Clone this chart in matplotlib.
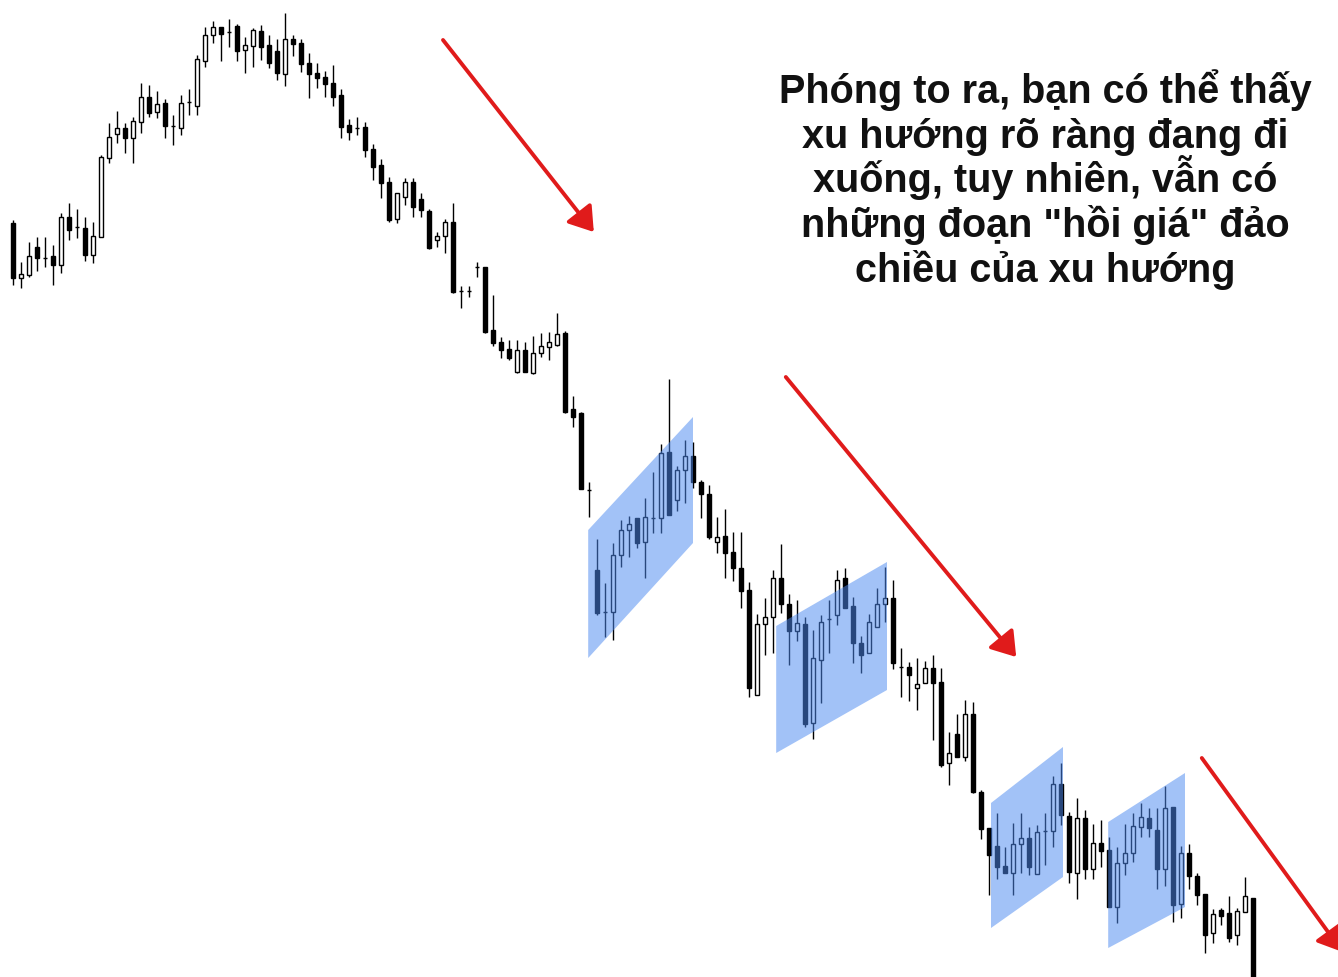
import matplotlib
matplotlib.use("Agg")
import matplotlib.pyplot as plt
from matplotlib.patches import Rectangle, Polygon

# ---------------- data (price units) ----------------
opens = [777, 722, 725, 753, 742, 744, 735, 783, 773, 772, 745, 763, 842, 866, 872, 862, 878, 903, 888, 897,
         874, 872, 898, 894, 939, 965, 973, 968, 974, 950, 954, 969, 955, 949, 926, 961, 957, 937, 927, 923,
         917, 905, 875, 872, 873, 851, 835, 818, 781, 803, 818, 801, 789, 760, 764, 778, 709, 709, 733, 733,
         670, 658, 651, 628, 650, 627, 647, 653, 655, 667, 591, 587, 510, 430, 388, 388, 445, 470, 482, 458,
         482, 482, 548, 500, 530, 544, 518, 506, 458, 464, 448, 432, 410, 305, 376, 383, 422, 396, 369, 376,
         277, 340, 381, 385, 422, 394, 357, 347, 373, 396, 402, 333, 333, 312, 317, 332, 318, 237, 266, 243,
         286, 208, 172, 154, 134, 127, 156, 162, 126, 169, 169, 216, 184, 127, 182, 131, 157, 150, 93, 137,
         147, 173, 182, 170, 131, 193, 96, 147, 124, 106, 67, 90, 87, 65, 88, 102]
highs = [780, 738, 758, 763, 763, 755, 787, 797, 791, 783, 778, 845, 877, 889, 877, 883, 917, 915, 909, 901,
         885, 905, 911, 945, 973, 979, 973, 981, 976, 963, 972, 975, 965, 961, 987, 965, 961, 947, 937, 929,
         935, 911, 881, 883, 878, 856, 841, 823, 807, 822, 822, 807, 791, 768, 781, 797, 714, 714, 738, 733,
         705, 663, 660, 660, 658, 664, 667, 668, 687, 669, 604, 588, 518, 461, 417, 457, 480, 484, 482, 502,
         528, 556, 621, 534, 560, 558, 520, 515, 483, 491, 468, 468, 418, 386, 402, 430, 456, 406, 400, 383,
         370, 385, 400, 430, 432, 403, 364, 386, 412, 433, 420, 352, 338, 342, 339, 345, 332, 268, 286, 300,
         298, 210, 172, 187, 153, 177, 187, 173, 175, 187, 224, 237, 188, 202, 190, 176, 180, 163, 153, 176,
         187, 197, 192, 192, 214, 193, 154, 156, 127, 106, 91, 92, 104, 92, 123, 102]
lows = [715, 712, 723, 729, 733, 715, 727, 760, 762, 739, 737, 763, 837, 857, 847, 837, 867, 883, 882, 862,
        855, 865, 885, 885, 933, 957, 939, 953, 939, 927, 933, 940, 932, 920, 914, 944, 928, 902, 912, 903,
        894, 862, 860, 865, 843, 820, 802, 778, 777, 795, 783, 783, 751, 753, 747, 707, 692, 703, 723, 667,
        654, 642, 640, 627, 628, 626, 643, 640, 654, 587, 573, 511, 483, 385, 363, 360, 433, 443, 452, 422,
        467, 467, 485, 489, 497, 512, 482, 461, 447, 422, 419, 392, 303, 305, 345, 347, 387, 335, 359, 273,
        261, 297, 347, 375, 392, 337, 327, 347, 373, 378, 331, 303, 299, 290, 317, 260, 233, 215, 243, 239,
        207, 161, 105, 121, 127, 105, 127, 125, 126, 135, 153, 175, 117, 101, 121, 121, 133, 93, 77, 125,
        138, 163, 163, 111, 114, 78, 82, 111, 95, 47, 57, 75, 58, 55, 88, 10]
closes = [722, 726, 744, 742, 742, 735, 783, 770, 773, 745, 764, 843, 863, 872, 862, 879, 903, 887, 896, 874,
          874, 897, 898, 941, 965, 973, 966, 968, 949, 955, 970, 953, 937, 927, 961, 956, 936, 926, 922, 916,
          903, 873, 868, 872, 850, 833, 817, 780, 807, 818, 793, 790, 752, 764, 778, 708, 709, 709, 733, 668,
          657, 650, 642, 650, 628, 647, 654, 658, 666, 588, 583, 511, 510, 387, 388, 445, 470, 476, 457, 483,
          482, 547, 485, 530, 544, 518, 506, 463, 463, 447, 432, 409, 312, 376, 383, 422, 396, 369, 377, 276,
          342, 378, 381, 420, 392, 357, 345, 378, 396, 402, 337, 333, 325, 316, 332, 317, 235, 247, 243, 286,
          208, 171, 145, 133, 127, 156, 162, 133, 168, 169, 216, 185, 128, 182, 131, 157, 149, 93, 137, 147,
          174, 183, 172, 131, 192, 95, 147, 124, 105, 65, 86, 84, 62, 89, 104, 10]

# pull-back zones: start/end candle index, top & bottom price at start/end
band_x0 = [71.9, 95.4, 122.25, 136.9]
band_x1 = [85.0, 109.25, 131.25, 146.5]
band_top0 = [470, 374, 197, 178]
band_top1 = [583, 438, 253, 227]
band_bot0 = [342, 247, 72, 52]
band_bot1 = [457, 310, 123, 93]

# trend arrows: (index, price) start -> end
arrow_x0 = [53.75, 96.6, 148.6]
arrow_y0 = [960, 623, 242]
arrow_x1 = [72.6, 125.4, 166.2]
arrow_y1 = [768, 343, 48]

caption_lines = ["Phóng to ra, bạn có thể thấy",
                 "xu hướng rõ ràng đang đi",
                 "xuống, tuy nhiên, vẫn có",
                 "những đoạn \"hồi giá\" đảo",
                 "chiều của xu hướng"]

# ---------------- figure ----------------
W, H = 1338, 977
fig = plt.figure(figsize=(W / 100, H / 100), dpi=100)
ax = fig.add_axes([0, 0, 1, 1])
ax.set_xlim(-13 / 8, (W - 13) / 8)
ax.set_ylim(1000 - H, 1000)
ax.axis("off")

body_w = 0.55
for i, (o, h, l, c) in enumerate(zip(opens, highs, lows, closes)):
    ax.vlines(i, l, h, color="black", lw=1.0, zorder=2)
    bull = c > o
    bottom = min(o, c)
    ax.add_patch(Rectangle((i - body_w / 2, bottom), body_w, abs(c - o),
                           facecolor="white" if bull else "black",
                           edgecolor="black", lw=1.0, zorder=3))

band_color = "#4D8AF0"
for x0, x1, t0, t1, b0, b1 in zip(band_x0, band_x1, band_top0, band_top1, band_bot0, band_bot1):
    ax.add_patch(Polygon([(x0, b0), (x0, t0), (x1, t1), (x1, b1)], closed=True,
                         facecolor=band_color, edgecolor="none", alpha=0.52, zorder=4))

red = "#E01B1B"
for x0, y0, x1, y1 in zip(arrow_x0, arrow_y0, arrow_x1, arrow_y1):
    ax.annotate("", xy=(x1, y1), xytext=(x0, y0),
                arrowprops=dict(arrowstyle="-|>,head_length=0.45,head_width=0.3", color=red, lw=2.8,
                                mutation_scale=32, shrinkA=0, shrinkB=0),
                zorder=5, annotation_clip=False)

base0, step = 103, 44.7
for k, line in enumerate(caption_lines):
    fig.text(1045 / W, 1 - (base0 + k * step) / H, line, ha="center", va="baseline",
             fontsize=28.5, fontweight="bold", family=["Liberation Sans", "DejaVu Sans"],
             color="#111111")

fig.savefig("out.png", dpi=100)
